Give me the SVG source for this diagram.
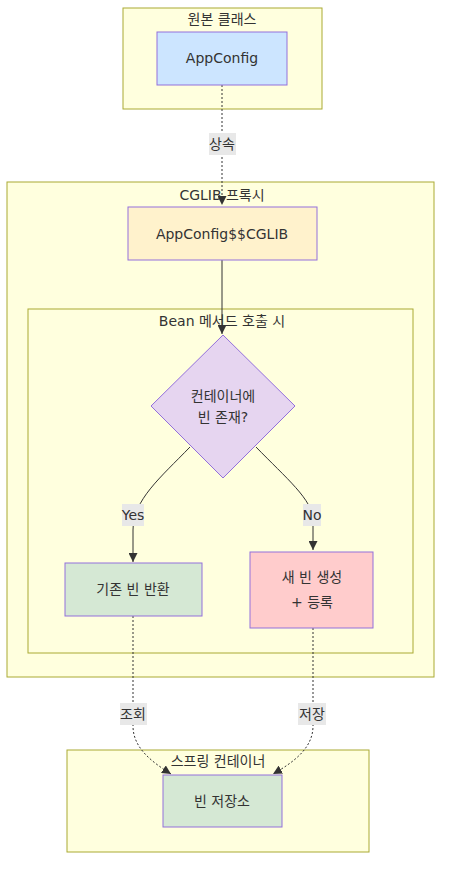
<svg xmlns="http://www.w3.org/2000/svg" width="450" height="876" viewBox="0 0 450 876">
<style>
text{font-family:"DejaVu Sans","Noto Sans CJK KR",sans-serif;font-size:14px;fill:#333;text-anchor:middle;dominant-baseline:central}
.cl{fill:#ffffde;stroke:#aaaa33;stroke-width:1}
.nd{stroke:#9370db;stroke-width:1}
.e{fill:none;stroke:#333;stroke-width:1}
.d{stroke-dasharray:2 2}
.lb{fill:#e8e8e8}
</style>
<defs>
<marker id="ah" viewBox="0 0 10 10" refX="10" refY="5" markerWidth="9" markerHeight="9" markerUnits="userSpaceOnUse" orient="auto">
<path d="M0,0L10,5L0,10z" fill="#333"/>
</marker>
</defs>
<rect width="450" height="876" fill="#fff"/>
<g id="clusters">
<g id="c-original"><rect class="cl" x="123" y="8" width="199" height="101"/><text x="222" y="19">원본 클래스</text></g>
<g id="c-cglib"><rect class="cl" x="7" y="182" width="427" height="495"/><text x="222" y="195">CGLIB 프록시</text></g>
<g id="c-bean"><rect class="cl" x="28" y="309" width="385" height="344"/><text x="222" y="321">Bean 메서드 호출 시</text></g>
<g id="c-spring"><rect class="cl" x="67" y="750" width="302" height="102"/><text x="218" y="761">스프링 컨테이너</text></g>
</g>
<g id="edges">
<path class="e d" d="M222,85L222,205" marker-end="url(#ah)"/>
<path class="e" d="M222,260L222,334" marker-end="url(#ah)"/>
<path class="e" d="M190,447C160,478 133,500 133,530L133,562" marker-end="url(#ah)"/>
<path class="e" d="M256,447C286,478 313,500 313,520L313,550" marker-end="url(#ah)"/>
<path class="e d" d="M133,616L133,726C133,748 152,762 171,774" marker-end="url(#ah)"/>
<path class="e d" d="M313,628L313,726C313,748 294,762 273,774" marker-end="url(#ah)"/>
</g>
<g id="edge-labels">
<g><rect class="lb" x="209" y="133" width="27" height="22"/><text x="222" y="144">상속</text></g>
<g><rect class="lb" x="122" y="504" width="22" height="22"/><text x="133" y="515">Yes</text></g>
<g><rect class="lb" x="303" y="504" width="18" height="22"/><text x="312" y="515">No</text></g>
<g><rect class="lb" x="120" y="703" width="27" height="22"/><text x="133" y="714">조회</text></g>
<g><rect class="lb" x="298" y="703" width="28" height="22"/><text x="312" y="714">저장</text></g>
</g>
<g id="n-appconfig"><rect class="nd" x="157" y="32" width="130" height="53" fill="#cce5ff"/><text x="222" y="58">AppConfig</text></g>
<g id="n-cglib"><rect class="nd" x="128" y="207" width="189" height="53" fill="#fff2cc"/><text x="222" y="234">AppConfig$$CGLIB</text></g>
<g id="n-decision"><polygon class="nd" points="223,335 295,406 223,478 151,406" fill="#e6d5f0"/><text x="223" y="396">컨테이너에</text><text x="223" y="417">빈 존재?</text></g>
<g id="n-existing"><rect class="nd" x="65" y="563" width="137" height="53" fill="#d5e8d4"/><text x="133" y="589">기존 빈 반환</text></g>
<g id="n-new"><rect class="nd" x="250" y="552" width="123" height="76" fill="#ffcccc"/><text x="312" y="577">새 빈 생성</text><text x="312" y="602">+ 등록</text></g>
<g id="n-store"><rect class="nd" x="163" y="775" width="119" height="52" fill="#d5e8d4"/><text x="222" y="801">빈 저장소</text></g>
</svg>
